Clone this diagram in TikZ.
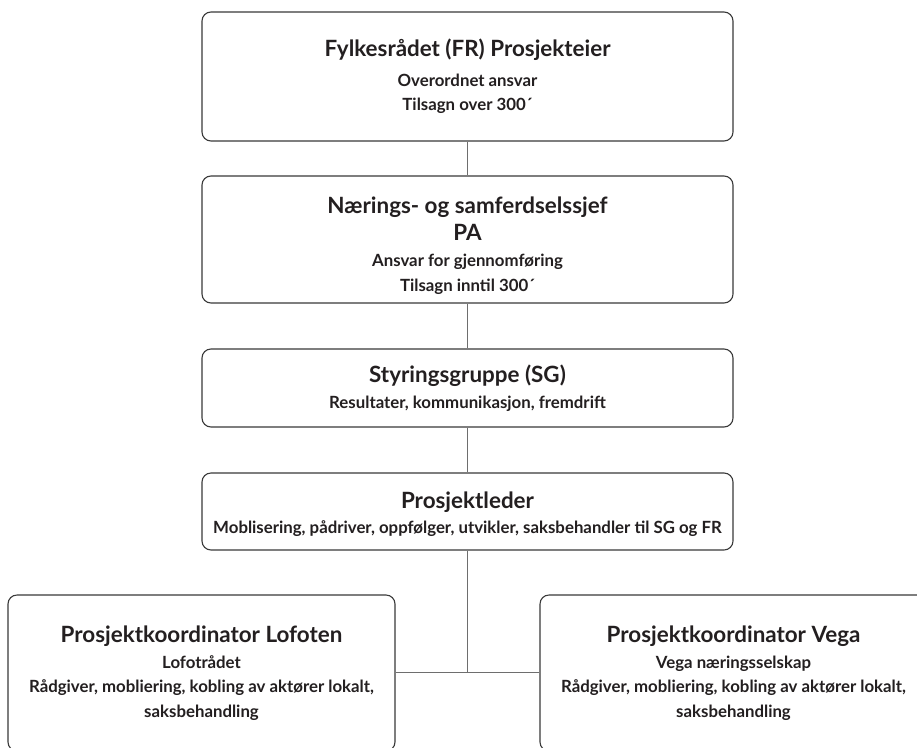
\documentclass[tikz,border=0pt]{standalone}
\usepackage{fontspec}
\setmainfont{Lato}
\definecolor{boxline}{HTML}{3A3A3A}
\definecolor{conn}{HTML}{6E6E6E}
\definecolor{txt}{HTML}{231F20}
\newcommand{\ttl}{\bfseries\fontsize{22.4}{25}\selectfont}
\newcommand{\sbt}{\bfseries\fontsize{16.8}{24.5}\selectfont}
\begin{document}
\begin{tikzpicture}[x=1pt,y=1pt,
  orgbox/.style={draw=boxline, line width=1.1pt, rounded corners=9pt, rectangle,
    align=center, text=txt, inner sep=0pt, font=\sbt},
  mainbox/.style={orgbox, minimum width=531pt},
  subbox/.style={orgbox, minimum width=387pt, minimum height=156pt},
  link/.style={draw=conn, line width=1.4pt}]
\useasboundingbox (0,0) rectangle (917,-747);
\clip (0,0) rectangle (917,-747);
\fill[white] (0,0) rectangle (917,-747);

\node[mainbox, minimum height=129pt] (fr) at (467.5,-76.5)
  {{\ttl Fylkesrådet (FR) Prosjekteier}\\[5pt] Overordnet ansvar\\ Tilsagn over 300´};
\node[mainbox, minimum height=127pt] (pa) at (467.5,-239.5)
  {{\ttl \rule{0pt}{29pt}Nærings- og samferdselssjef}\\[2pt] {\ttl PA}\\[2pt] Ansvar for gjennomføring\\ Tilsagn inntil 300´};
\node[mainbox, minimum height=78pt] (sg) at (467.5,-388)
  {{\ttl Styringsgruppe (SG)}\\[1pt] Resultater, kommunikasjon, fremdrift};
\node[mainbox, minimum height=77pt] (pl) at (467.5,-511.5)
  {{\ttl \rule{0pt}{22pt}Prosjektleder}\\[1pt] Moblisering, pådriver, oppfølger, utvikler, saksbehandler til SG og FR};
\node[subbox] (lof) at (201.5,-673)
  {{\ttl Prosjektkoordinator Lofoten}\\[1pt] Lofotrådet\\ Rådgiver, mobliering, kobling av aktører lokalt,\\ saksbehandling};
\node[subbox] (vega) at (733.5,-673)
  {{\ttl Prosjektkoordinator Vega}\\[1pt] Vega næringsselskap\\ Rådgiver, mobliering, kobling av aktører lokalt,\\ saksbehandling};

\coordinate (j) at (467.5,-672.5);
\draw[link] (fr.south) -- (pa.north);
\draw[link] (pa.south) -- (sg.north);
\draw[link] (sg.south) -- (pl.north);
\draw[link] (pl.south) -- (j);
\draw[link] (lof.east |- j) -- (vega.west |- j);
\end{tikzpicture}
\end{document}
